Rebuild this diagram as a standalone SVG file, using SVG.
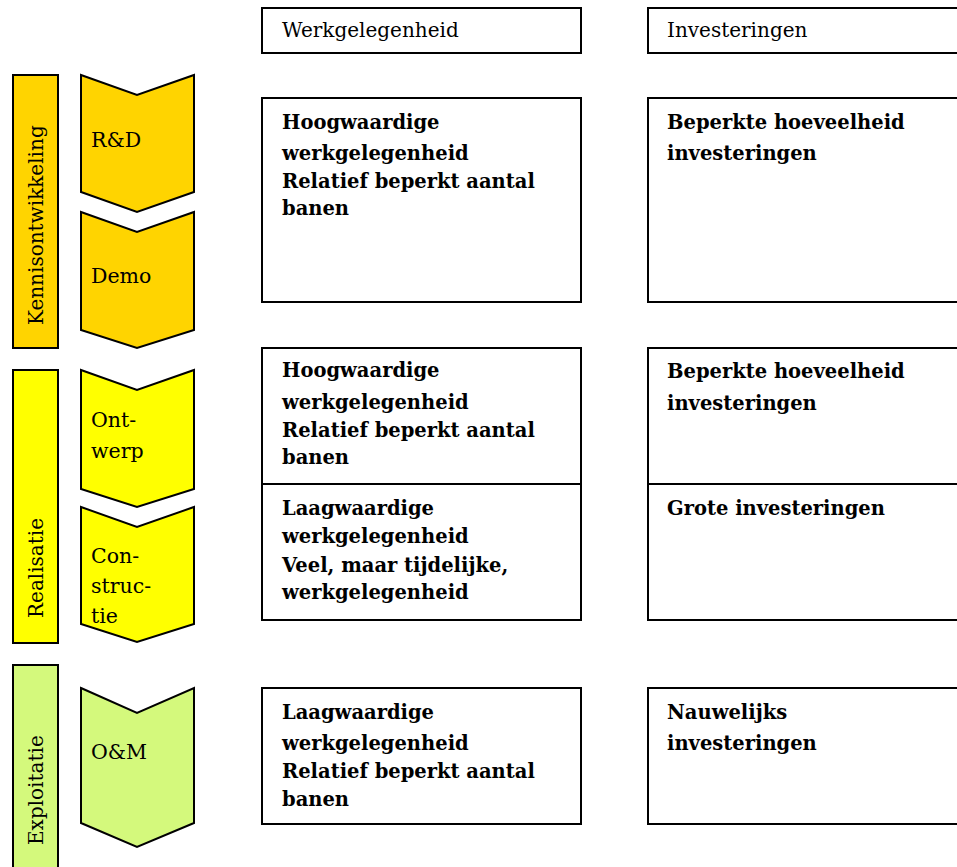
<svg xmlns="http://www.w3.org/2000/svg" width="957" height="867" viewBox="0 0 957 867">
<defs>
<style>
.box{fill:#fff;stroke:#000;stroke-width:2}
.bar{stroke:#000;stroke-width:2}
.chev{stroke:#000;stroke-width:2;stroke-linejoin:miter}
.k{fill:#FFD400}
.r{fill:#FFFF00}
.e{fill:#D4F97C}
.hd{font-family:"DejaVu Serif","Liberation Serif",serif;font-size:20px;fill:#000}
.bt{font-family:"DejaVu Serif","Liberation Serif",serif;font-size:19.5px;font-weight:bold;fill:#000}
.ct{font-family:"DejaVu Serif","Liberation Serif",serif;font-size:20.5px;fill:#000}
.vt{font-family:"DejaVu Serif","Liberation Serif",serif;font-size:20px;fill:#000}
</style>
<clipPath id="hclip"><rect x="0" y="0" width="957" height="41"/></clipPath>
</defs>
<rect width="957" height="867" fill="#fff"/>

<g id="phase-kennis">
<rect class="bar k" x="13" y="75" width="45" height="273"/>
<text class="vt" transform="translate(43,325) rotate(-90)">Kennisontwikkeling</text>
</g>
<g id="phase-realisatie">
<rect class="bar r" x="13" y="370" width="45" height="273"/>
<text class="vt" transform="translate(43,618) rotate(-90)">Realisatie</text>
</g>
<g id="phase-exploitatie">
<rect class="bar e" x="13" y="665" width="45" height="215"/>
<text class="vt" transform="translate(43,845) rotate(-90)">Exploitatie</text>
</g>

<g id="step-rd">
<polygon class="chev k" points="81,75 137,95 194,75 194,192 137,212 81,192"/>
<text class="ct" x="91" y="147">R&amp;D</text>
</g>
<g id="step-demo">
<polygon class="chev k" points="81,212 137,232 194,212 194,330 137,348 81,330"/>
<text class="ct" x="91" y="283">Demo</text>
</g>
<g id="step-ontwerp">
<polygon class="chev r" points="81,370 137,390 194,370 194,489 137,507 81,489"/>
<text class="ct" x="91" y="427">Ont-</text>
<text class="ct" x="91" y="458">werp</text>
</g>
<g id="step-constructie">
<polygon class="chev r" points="81,507 137,527 194,507 194,624 137,642 81,624"/>
<text class="ct" x="91" y="563">Con-</text>
<text class="ct" x="91" y="593">struc-</text>
<text class="ct" x="91" y="623">tie</text>
</g>
<g id="step-om">
<polygon class="chev e" points="81,688 137,713 194,688 194,823 137,847 81,823"/>
<text class="ct" x="91" y="759">O&amp;M</text>
</g>

<g id="header-werk">
<rect class="box" x="262" y="8" width="319" height="45"/>
<text class="hd" x="282" y="37" clip-path="url(#hclip)">Werkgelegenheid</text>
</g>
<g id="header-inv">
<rect class="box" x="648" y="8" width="320" height="45"/>
<text class="hd" x="667" y="37" clip-path="url(#hclip)">Investeringen</text>
</g>

<g id="werk-row1">
<rect class="box" x="262" y="98" width="319" height="204"/>
<text class="bt" x="282" y="129">Hoogwaardige</text>
<text class="bt" x="282" y="160">werkgelegenheid</text>
<text class="bt" x="282" y="188">Relatief beperkt aantal</text>
<text class="bt" x="282" y="215">banen</text>
</g>
<g id="inv-row1">
<rect class="box" x="648" y="98" width="320" height="204"/>
<text class="bt" x="667" y="129">Beperkte hoeveelheid</text>
<text class="bt" x="667" y="160">investeringen</text>
</g>

<g id="werk-row2a">
<rect class="box" x="262" y="348" width="319" height="136"/>
<text class="bt" x="282" y="377">Hoogwaardige</text>
<text class="bt" x="282" y="409">werkgelegenheid</text>
<text class="bt" x="282" y="437">Relatief beperkt aantal</text>
<text class="bt" x="282" y="464">banen</text>
</g>
<g id="werk-row2b">
<rect class="box" x="262" y="484" width="319" height="136"/>
<text class="bt" x="282" y="515">Laagwaardige</text>
<text class="bt" x="282" y="543">werkgelegenheid</text>
<text class="bt" x="282" y="572">Veel, maar tijdelijke,</text>
<text class="bt" x="282" y="599">werkgelegenheid</text>
</g>
<g id="inv-row2a">
<rect class="box" x="648" y="348" width="320" height="136"/>
<text class="bt" x="667" y="378">Beperkte hoeveelheid</text>
<text class="bt" x="667" y="410">investeringen</text>
</g>
<g id="inv-row2b">
<rect class="box" x="648" y="484" width="320" height="136"/>
<text class="bt" x="667" y="515">Grote investeringen</text>
</g>

<g id="werk-row3">
<rect class="box" x="262" y="688" width="319" height="136"/>
<text class="bt" x="282" y="719">Laagwaardige</text>
<text class="bt" x="282" y="750">werkgelegenheid</text>
<text class="bt" x="282" y="778">Relatief beperkt aantal</text>
<text class="bt" x="282" y="806">banen</text>
</g>
<g id="inv-row3">
<rect class="box" x="648" y="688" width="320" height="136"/>
<text class="bt" x="667" y="719">Nauwelijks</text>
<text class="bt" x="667" y="750">investeringen</text>
</g>

<g id="connectors"></g>
</svg>
